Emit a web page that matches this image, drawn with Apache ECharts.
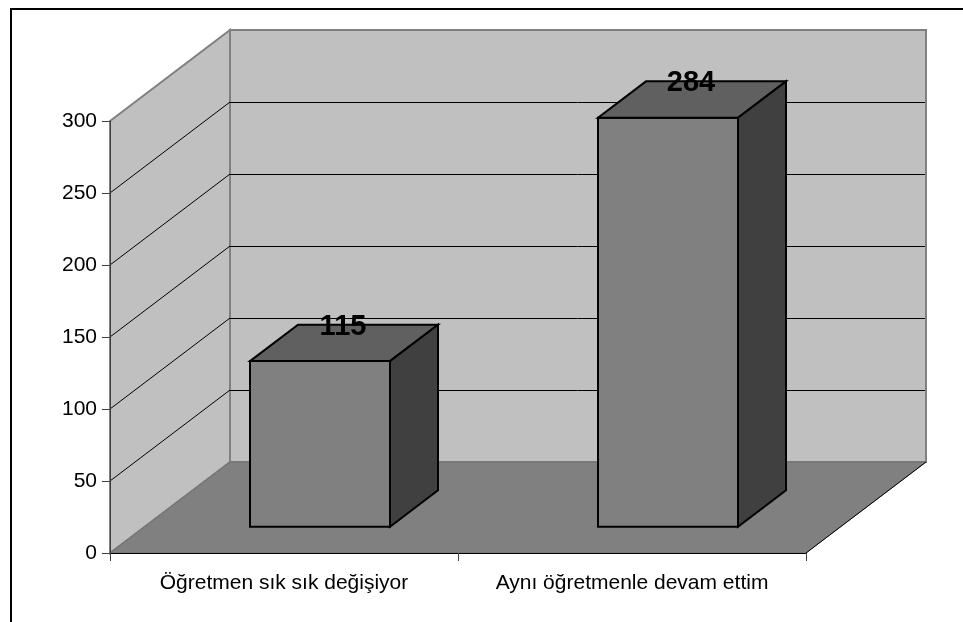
<!DOCTYPE html>
<html><head><meta charset="utf-8">
<style>html,body{margin:0;padding:0;background:#fff}#c{width:963px;height:622px}</style>
<script src="https://cdn.jsdelivr.net/npm/echarts@6/dist/echarts.min.js"></script>
</head><body><div id="c"></div>
<script>
const categories = ['Öğretmen sık sık değişiyor', 'Aynı öğretmenle devam ettim'];
const values = [115, 284];
const wallTicks = [0, 50, 100, 150, 200, 250, 300];

const DX = 120, DY = -91;
const BAR_RATIO = 140 / 348, OFF = 0.3, DEPTH = 0.4;
const FONT = '"Liberation Sans", Arial, sans-serif';

const chart = echarts.init(document.getElementById('c'), null, {renderer: 'canvas'});

function poly(points, fill, stroke, lw) {
  return {type: 'polygon', shape: {points}, style: {fill, stroke, lineWidth: lw}};
}
function seg(x1, y1, x2, y2, stroke, lw) {
  return {type: 'line', shape: {x1, y1, x2, y2}, style: {stroke, lineWidth: lw, fill: null}};
}

function renderWalls(params, api) {
  const cs = params.coordSys;
  const L = cs.x, R = cs.x + cs.width, T = cs.y, B = cs.y + cs.height;
  const children = [];
  if (params.dataIndex === 0) {
    children.push(poly([[L + DX, T + DY], [R + DX, T + DY], [R + DX, B + DY], [L + DX, B + DY]], '#C0C0C0', '#808080', 2));
    children.push(poly([[L, T], [L + DX, T + DY], [L + DX, B + DY], [L, B]], '#C0C0C0', '#808080', 2));
    children.push(poly([[L, B], [L + DX, B + DY], [R + DX, B + DY], [R, B]], '#808080', '#707070', 1));
    children.push(seg(R, B, R + DX, B + DY, '#000', 1));
  }
  const v = api.value(0);
  if (v > 0 && v < 300) {
    const y = api.coord([0, v])[1];
    children.push(seg(L, y, L + DX, y + DY, '#000', 1));
    children.push(seg(L + DX, y + DY + 0.5, R + DX - 1, y + DY + 0.5, '#000', 1));
  }
  return {type: 'group', children};
}

function renderBar(params, api) {
  const idx = api.value(0), val = api.value(1);
  const top = api.coord([idx, val]), base = api.coord([idx, 0]);
  const w = api.size([1, 0])[0] * BAR_RATIO;
  const x0 = top[0] - w / 2 + DX * OFF, x1 = x0 + w;
  const yT = top[1] + DY * OFF + 1, yB = base[1] + DY * OFF + 1;
  const dx = DX * DEPTH, dy = DY * DEPTH;
  return {type: 'group', children: [
    poly([[x0, yT], [x1, yT], [x1, yB], [x0, yB]], '#808080', '#000', 2),
    poly([[x0, yT], [x0 + dx, yT + dy], [x1 + dx, yT + dy], [x1, yT]], '#606060', '#000', 2),
    poly([[x1, yT], [x1 + dx, yT + dy], [x1 + dx, yB + dy], [x1, yB]], '#404040', '#000', 2),
    {type: 'text', style: {
      x: (x0 + x1 + dx) / 2 - 1, y: yT + dy + 2,
      text: String(val), fill: '#000',
      font: 'bold 29px ' + FONT, align: 'center', verticalAlign: 'middle'
    }}
  ]};
}

chart.setOption({
  animation: false,
  backgroundColor: '#fff',
  grid: {left: 110, top: 121, width: 696, height: 432, containLabel: false},
  xAxis: {
    type: 'category', data: categories, z: 5,
    axisLine: {lineStyle: {color: '#000', width: 1}},
    axisTick: {show: true, length: 8, interval: 0, lineStyle: {color: '#404040', width: 1}},
    axisLabel: {color: '#000', fontFamily: FONT, fontSize: 21, margin: 20, interval: 0, hideOverlap: false}
  },
  yAxis: {
    type: 'value', min: 0, max: 300, interval: 50, z: 5,
    axisLine: {show: true, lineStyle: {color: '#404040', width: 1}},
    axisTick: {show: true, length: 8, lineStyle: {color: '#404040', width: 1}},
    axisLabel: {color: '#000', fontFamily: FONT, fontSize: 21, margin: 13, padding: [2, 0, 0, 0]},
    splitLine: {show: false}
  },
  series: [
    {type: 'custom', coordinateSystem: 'cartesian2d', z: 1, clip: false, silent: true,
     renderItem: renderWalls, data: wallTicks.map(v => [v]), encode: {y: 0}},
    {type: 'custom', coordinateSystem: 'cartesian2d', z: 2, clip: false, silent: true,
     renderItem: renderBar, data: values.map((v, i) => [i, v]), encode: {x: 0, y: 1}}
  ],
  graphic: [
    {type: 'line', z: 10, shape: {x1: 10, y1: 9, x2: 963, y2: 9}, style: {stroke: '#000', lineWidth: 2}},
    {type: 'line', z: 10, shape: {x1: 11, y1: 8, x2: 11, y2: 622}, style: {stroke: '#000', lineWidth: 2}}
  ]
});
</script></body></html>
